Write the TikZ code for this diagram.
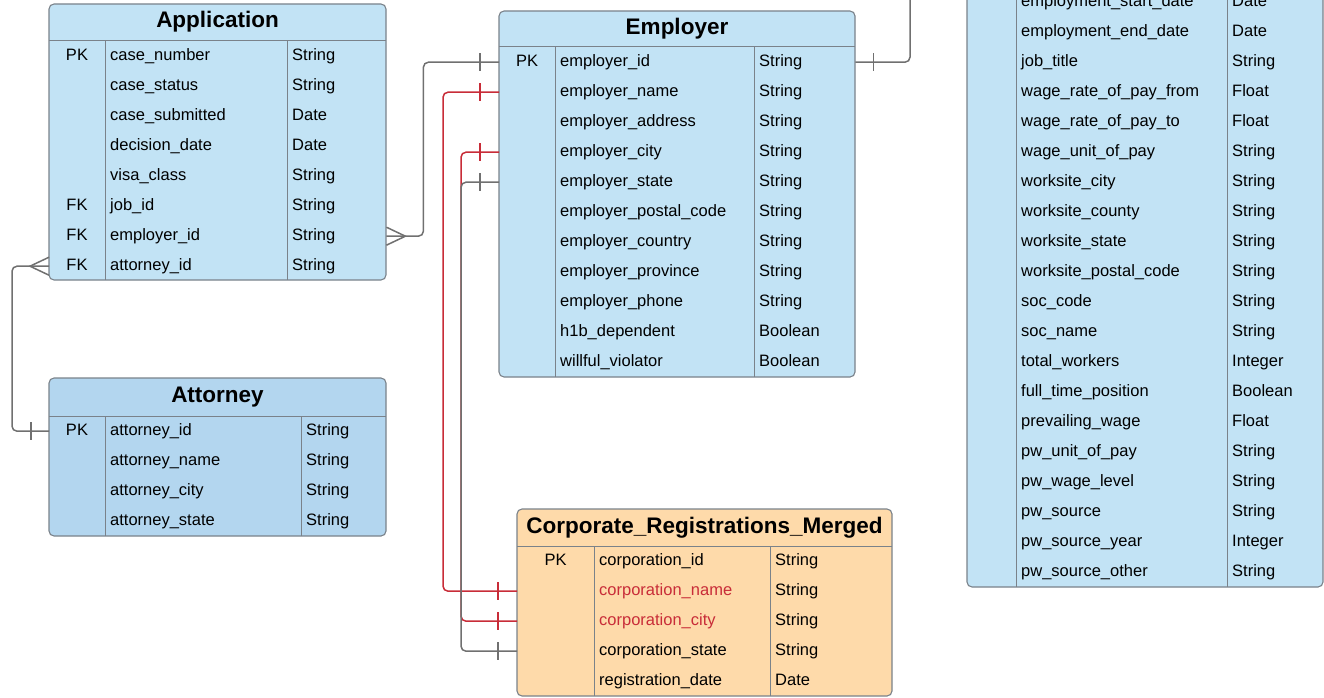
\documentclass[tikz,border=0pt]{standalone}
\usepackage{fontspec}
\setmainfont{Liberation Sans}
\usetikzlibrary{positioning}

\definecolor{appblue}{RGB}{194,227,245}
\definecolor{attblue}{RGB}{179,214,239}
\definecolor{corporange}{RGB}{254,218,170}
\definecolor{framegray}{RGB}{122,130,138}
\definecolor{linkgray}{RGB}{112,112,112}
\definecolor{linkred}{RGB}{200,44,56}

\tikzset{
	tablebox/.style={draw=framegray, line width=1.1pt, rounded corners=5pt},
	colline/.style={draw=framegray, line width=1pt},
	tabletitle/.style={inner sep=0pt, text height=16pt, text depth=0pt, font=\fontsize{22.5}{26}\selectfont\bfseries},
	keycell/.style={inner sep=0pt, text height=12pt, text depth=0pt, font=\fontsize{16.5}{19}\selectfont},
	namecell/.style={keycell, anchor=west},
	rowbox/.style={inner sep=0pt, minimum height=30pt, anchor=north west},
	link/.style={draw=linkgray, line width=1.5pt, rounded corners=5pt},
	redlink/.style={link, draw=linkred},
}

\begin{document}
\begin{tikzpicture}[x=1pt, y=-1pt]
	\useasboundingbox (0,0) rectangle (1324,698);
	\clip (0,0) rectangle (1324,698);

	% Application
	\draw[tablebox, fill=appblue] (49,4) rectangle (386,280);
	\draw[colline] (49,41) -- (386,41) (105,41) -- (105,280) (287,41) -- (287,280);
	\node[tabletitle] (app) at (217.5,20) {Application};
	\foreach [count=\i] \k/\n/\t in {PK/case\_number/String, {}/case\_status/String, {}/case\_submitted/Date, {}/decision\_date/Date, {}/visa\_class/String, FK/job\_id/String, FK/employer\_id/String, FK/attorney\_id/String} {
		\node[rowbox, minimum width=337pt] (app-\i) at (49,11+30*\i) {};
		\node[keycell] at (77,24.5+30*\i) {\k};
		\node[namecell] at (110,24.5+30*\i) {\n};
		\node[namecell] at (292,24.5+30*\i) {\t};
	}

	% Employer
	\draw[tablebox, fill=appblue] (499,11) rectangle (855,377);
	\draw[colline] (499,47) -- (855,47) (555,47) -- (555,377) (754,47) -- (754,377);
	\node[tabletitle] (emp) at (677,26.5) {Employer};
	\foreach [count=\i] \k/\n/\t in {PK/employer\_id/String, {}/employer\_name/String, {}/employer\_address/String, {}/employer\_city/String, {}/employer\_state/String, {}/employer\_postal\_code/String, {}/employer\_country/String, {}/employer\_province/String, {}/employer\_phone/String, {}/h1b\_dependent/Boolean, {}/willful\_violator/Boolean} {
		\node[rowbox, minimum width=356pt] (emp-\i) at (499,17+30*\i) {};
		\node[keycell] at (527,30.5+30*\i) {\k};
		\node[namecell] at (560,30.5+30*\i) {\n};
		\node[namecell] at (759,30.5+30*\i) {\t};
	}

	% Attorney
	\draw[tablebox, fill=attblue] (49,378) rectangle (386,536);
	\draw[colline] (49,416) -- (386,416) (105,416) -- (105,536) (301,416) -- (301,536);
	\node[tabletitle] (att) at (217.5,394) {Attorney};
	\foreach [count=\i] \k/\n/\t in {PK/attorney\_id/String, {}/attorney\_name/String, {}/attorney\_city/String, {}/attorney\_state/String} {
		\node[rowbox, minimum width=337pt] (att-\i) at (49,386+30*\i) {};
		\node[keycell] at (77,399.5+30*\i) {\k};
		\node[namecell] at (110,399.5+30*\i) {\n};
		\node[namecell] at (306,399.5+30*\i) {\t};
	}

	% Corporate_Registrations_Merged
	\draw[tablebox, fill=corporange] (517,509) rectangle (892,696);
	\draw[colline] (517,546) -- (892,546) (594,546) -- (594,696) (770,546) -- (770,696);
	\node[tabletitle] (corp) at (704.5,525) {Corporate\_Registrations\_Merged};
	\foreach [count=\i] \k/\n/\t/\c in {PK/corporation\_id/String/black, {}/corporation\_name/String/linkred, {}/corporation\_city/String/linkred, {}/corporation\_state/String/black, {}/registration\_date/Date/black} {
		\node[rowbox, minimum width=375pt] (corp-\i) at (517,516+30*\i) {};
		\node[keycell] at (555.5,529.5+30*\i) {\k};
		\node[namecell, text=\c] at (599,529.5+30*\i) {\n};
		\node[namecell] at (775,529.5+30*\i) {\t};
	}

	% job table, cut at the top
	\draw[tablebox, fill=appblue] (967,-80) rectangle (1323,587);
	\draw[colline] (1016,-80) -- (1016,587) (1227,-80) -- (1227,587);
	\foreach [count=\i] \n/\t in {employment\_start\_date/Date, employment\_end\_date/Date, job\_title/String, wage\_rate\_of\_pay\_from/Float, wage\_rate\_of\_pay\_to/Float, wage\_unit\_of\_pay/String, worksite\_city/String, worksite\_county/String, worksite\_state/String, worksite\_postal\_code/String, soc\_code/String, soc\_name/String, total\_workers/Integer, full\_time\_position/Boolean, prevailing\_wage/Float, pw\_unit\_of\_pay/String, pw\_wage\_level/String, pw\_source/String, pw\_source\_year/Integer, pw\_source\_other/String} {
		\node[rowbox, minimum width=356pt] (job-\i) at (967,-43+30*\i) {};
		\node[namecell] at (1021,-29.5+30*\i) {\n};
		\node[namecell] at (1232,-29.5+30*\i) {\t};
	}

	% connectors
	\coordinate (jobend) at (910,-10);
	\draw[link] (emp-1.east) -| (jobend);
	\draw[link] ([xshift=18pt]emp-1.east) ++(0,-9) -- ++(0,18);

	\draw[link] (app-7.east) -- ++(37,0) |- (emp-1.west);
	\draw[link, sharp corners] ([yshift=9pt]app-7.east) -- ++(19,9) -- ++(-19,9);
	\draw[link] ([xshift=-19pt]emp-1.west) ++(0,-9) -- ++(0,18);

	\draw[link] (app-8.west) -- ++(-37,0) |- (att-1.west);
	\draw[link, sharp corners] ([yshift=9pt]app-8.west) -- ++(-19,9) -- ++(19,9);
	\draw[link] ([xshift=-18pt]att-1.west) ++(0,-9) -- ++(0,18);

	\draw[redlink] (emp-2.west) -- ++(-56,0) |- (corp-2.west);
	\draw[redlink] (emp-4.west) -- ++(-38,0) |- (corp-3.west);
	\draw[link] (emp-5.west) -- ++(-38,0) |- (corp-4.west);
	\foreach \r in {2,4} {
		\draw[redlink] ([xshift=-19pt]emp-\r.west) ++(0,-9) -- ++(0,18);
	}
	\draw[link] ([xshift=-19pt]emp-5.west) ++(0,-9) -- ++(0,18);
	\foreach \r in {2,3} {
		\draw[redlink] ([xshift=-19pt]corp-\r.west) ++(0,-9) -- ++(0,18);
	}
	\draw[link] ([xshift=-19pt]corp-4.west) ++(0,-9) -- ++(0,18);
\end{tikzpicture}
\end{document}
